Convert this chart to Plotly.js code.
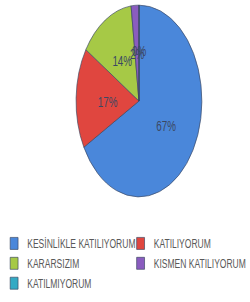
<!DOCTYPE html>
<html><head><meta charset="utf-8">
<script src="https://cdn.plot.ly/plotly-3.0.1.min.js"></script>
<style>
html,body{margin:0;padding:0;background:#fff;overflow:hidden;}
#wrap{width:250px;height:302px;overflow:hidden;}
#chart{width:381px;height:302px;transform:scaleX(0.656);transform-origin:0 0;}
</style></head>
<body><div id="wrap"><div id="chart"></div></div>
<script>
const labels = ["KESİNLİKLE KATILIYORUM", "KATILIYORUM", "KARARSIZIM", "KISMEN KATILIYORUM", "KATILMIYORUM"];
const values = [67, 17, 14, 2, 0];
const colors = ["#4a87da", "#e0463f", "#a6c946", "#8a5cbf", "#34aac4"];
const clear = labels.map(() => "rgba(0,0,0,0)");

const labelFont = {family: "Liberation Sans, Arial, sans-serif", size: 15, color: "#3b4863"};

// main pie (slices + legend); carries the label of the big slice
const pie = {
  type: "pie",
  labels: labels,
  values: values,
  sort: false,
  direction: "clockwise",
  rotation: 0,
  marker: {colors: colors, line: {color: "#3a4660", width: 0.8}},
  texttemplate: "%{percent:.0%}",
  textposition: ["inside", "none", "none", "none", "none"],
  insidetextorientation: "horizontal",
  textfont: labelFont,
  domain: {x: [0.304, 0.808], y: [0.348, 0.983]},
  hoverinfo: "none"
};

// transparent ring that carries the other percent labels at about half radius
const labelRing = {
  type: "pie",
  labels: labels,
  values: values,
  sort: false,
  direction: "clockwise",
  rotation: 0,
  hole: 0.9,
  showlegend: false,
  marker: {colors: clear, line: {width: 0}},
  texttemplate: "%{percent:.0%}",
  textposition: ["none", "inside", "inside", "inside", "inside"],
  insidetextorientation: "horizontal",
  textfont: labelFont,
  domain: {x: [0.424, 0.689], y: [0.498, 0.833]},
  hoverinfo: "none"
};

const layout = {
  width: 381, height: 302,
  margin: {l: 0, r: 0, t: 0, b: 0, autoexpand: false},
  paper_bgcolor: "#fff",
  showlegend: true,
  uniformtext: {minsize: 15, mode: "show"},
  legend: {
    orientation: "h",
    x: 0.004, xanchor: "left",
    y: 0.2435, yanchor: "top",
    font: {family: "Liberation Sans, Arial, sans-serif", size: 13, color: "#595959"},
    entrywidth: 0.506, entrywidthmode: "fraction",
    itemwidth: 30
  }
};

Plotly.newPlot("chart", [pie, labelRing], layout, {displayModeBar: false, staticPlot: true});
</script></body></html>
